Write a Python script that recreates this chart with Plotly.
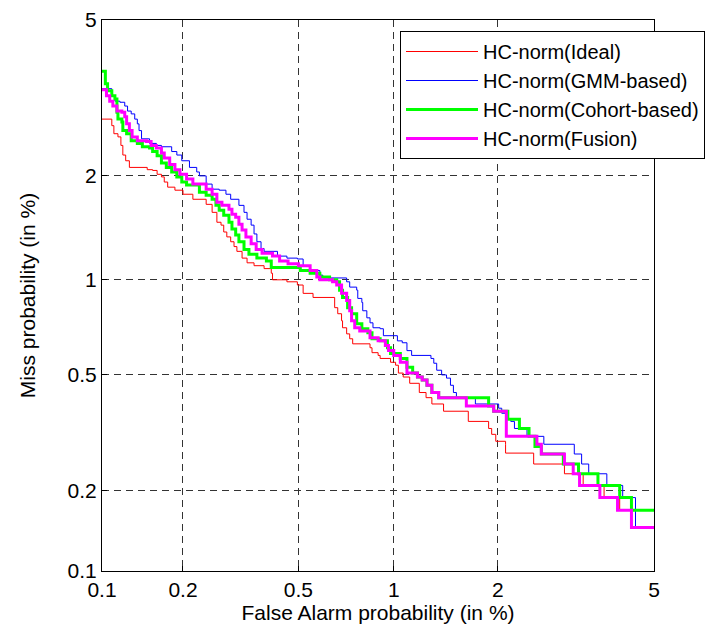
from statistics import NormalDist
import plotly.graph_objects as go

# ---- data (values in %) ----
tick_values = [0.1, 0.2, 0.5, 1, 2, 5]
tick_labels = ["0.1", "0.2", "0.5", "1", "2", "5"]

ideal_fa = [0.1, 0.109, 0.111, 0.115, 0.118, 0.120, 0.123, 0.127, 0.148, 0.155, 0.161, 0.167, 0.171, 0.176,
            0.187, 0.2, 0.217, 0.242, 0.254, 0.264, 0.273, 0.279, 0.286, 0.295, 0.303, 0.310, 0.323, 0.336,
            0.355, 0.384, 0.406, 0.410, 0.458, 0.496, 0.518, 0.558, 0.655, 0.670, 0.689, 0.694, 0.715, 0.731,
            0.747, 0.846, 0.858, 0.896, 0.909, 0.978, 1.013, 1.033, 1.068, 1.117, 1.193, 1.249, 1.299, 1.405,
            1.654, 1.886, 1.923, 1.974, 2.10, 2.10, 2.50, 3.01, 3.36, 3.79, 4.14, 4.42, 5.0]
ideal_miss = [2.84, 2.73, 2.60, 2.55, 2.42, 2.28, 2.20, 2.11, 2.08, 2.07, 2.02, 1.987, 1.923, 1.861, 1.825,
              1.778, 1.721, 1.665, 1.580, 1.480, 1.452, 1.387, 1.342, 1.299, 1.257, 1.217, 1.162, 1.125, 1.103,
              1.081, 1.047, 1.0, 0.986, 0.964, 0.909, 0.883, 0.821, 0.786, 0.747, 0.710, 0.679, 0.655, 0.631,
              0.613, 0.591, 0.579, 0.566, 0.550, 0.538, 0.507, 0.492, 0.469, 0.437, 0.420, 0.400, 0.378, 0.349,
              0.330, 0.315, 0.298, 0.291, 0.271, 0.248, 0.229, 0.208, 0.188, 0.169, 0.146, 0.146]

gmm_fa = [0.1, 0.109, 0.112, 0.117, 0.122, 0.125, 0.129, 0.133, 0.136, 0.138, 0.141, 0.151, 0.160, 0.167,
          0.182, 0.190, 0.198, 0.211, 0.224, 0.229, 0.242, 0.254, 0.269, 0.284, 0.295, 0.315, 0.328, 0.336,
          0.347, 0.355, 0.363, 0.375, 0.384, 0.426, 0.458, 0.496, 0.518, 0.546, 0.587, 0.600, 0.715, 0.731,
          0.769, 0.775, 0.798, 0.803, 0.827, 0.846, 0.864, 0.909, 0.930, 1.026, 1.061, 1.096, 1.132, 1.291,
          1.316, 1.342, 1.387, 1.433, 1.471, 1.500, 1.530, 1.732, 2.01, 2.05, 2.10, 2.17, 2.22, 2.40, 2.66,
          3.19, 3.33, 3.47, 3.85, 4.21, 4.52, 5.0]
gmm_miss = [3.40, 3.26, 3.16, 3.14, 3.07, 2.98, 2.93, 2.84, 2.76, 2.65, 2.52, 2.45, 2.42, 2.40, 2.33, 2.28,
            2.20, 2.11, 2.05, 2.0, 1.898, 1.837, 1.825, 1.778, 1.721, 1.654, 1.580, 1.510, 1.452, 1.369, 1.299,
            1.241, 1.217, 1.178, 1.162, 1.155, 1.103, 1.067, 1.033, 1.013, 0.986, 0.950, 0.930, 0.877, 0.852,
            0.803, 0.763, 0.736, 0.710, 0.705, 0.670, 0.645, 0.636, 0.600, 0.579, 0.566, 0.546, 0.518, 0.5,
            0.488, 0.462, 0.437, 0.420, 0.400, 0.387, 0.372, 0.355, 0.349, 0.330, 0.310, 0.291, 0.269, 0.248,
            0.229, 0.208, 0.188, 0.146, 0.146]

cohort_fa = [0.1, 0.103, 0.105, 0.109, 0.112, 0.114, 0.115, 0.119, 0.120, 0.124, 0.129, 0.136, 0.142, 0.151,
             0.155, 0.161, 0.167, 0.174, 0.182, 0.190, 0.198, 0.206, 0.229, 0.242, 0.254, 0.262, 0.269, 0.279,
             0.291, 0.298, 0.307, 0.315, 0.328, 0.341, 0.363, 0.391, 0.406, 0.507, 0.546, 0.587, 0.631, 0.665,
             0.679, 0.694, 0.720, 0.741, 0.769, 0.798, 0.833, 0.858, 0.909, 0.957, 0.978, 1.047, 1.096, 1.140,
             1.178, 1.217, 1.257, 1.299, 1.360, 1.886, 1.948, 2.13, 2.29, 2.43, 2.52, 2.62, 2.99, 3.27, 3.66,
             4.14, 4.42, 5.0]
cohort_miss = [3.76, 3.50, 3.36, 3.26, 3.20, 2.96, 2.84, 2.79, 2.65, 2.60, 2.49, 2.45, 2.40, 2.38, 2.33, 2.27,
               2.17, 2.11, 2.05, 1.987, 1.923, 1.886, 1.801, 1.766, 1.721, 1.654, 1.601, 1.550, 1.480, 1.414,
               1.360, 1.299, 1.233, 1.193, 1.162, 1.140, 1.089, 1.067, 1.047, 1.020, 1.0, 0.986, 0.930, 0.883,
               0.821, 0.786, 0.731, 0.705, 0.684, 0.655, 0.645, 0.613, 0.587, 0.566, 0.530, 0.507, 0.492, 0.481,
               0.462, 0.437, 0.420, 0.394, 0.378, 0.355, 0.330, 0.310, 0.286, 0.269, 0.248, 0.229, 0.208, 0.188,
               0.169, 0.169]

fusion_fa = [0.1, 0.104, 0.107, 0.110, 0.114, 0.119, 0.122, 0.124, 0.127, 0.130, 0.136, 0.147, 0.153, 0.160,
             0.167, 0.171, 0.179, 0.187, 0.195, 0.206, 0.217, 0.242, 0.254, 0.264, 0.275, 0.291, 0.298, 0.307,
             0.315, 0.323, 0.333, 0.347, 0.361, 0.378, 0.410, 0.433, 0.462, 0.5, 0.546, 0.574, 0.587, 0.645,
             0.665, 0.689, 0.715, 0.731, 0.741, 0.758, 0.786, 0.846, 0.896, 0.943, 0.964, 1.0, 1.047, 1.096,
             1.178, 1.217, 1.257, 1.299, 1.360, 1.633, 1.948, 2.11, 2.55, 2.62, 3.01, 3.17, 3.29, 3.70, 4.09,
             4.42, 5.0]
fusion_miss = [3.38, 3.26, 3.16, 3.07, 2.98, 2.96, 2.88, 2.76, 2.65, 2.55, 2.49, 2.48, 2.42, 2.38, 2.31, 2.24,
               2.15, 2.08, 2.02, 1.961, 1.898, 1.837, 1.778, 1.687, 1.654, 1.612, 1.560, 1.530, 1.461, 1.405,
               1.342, 1.282, 1.233, 1.201, 1.178, 1.140, 1.117, 1.103, 1.067, 1.020, 1.0, 0.986, 0.964, 0.909,
               0.864, 0.803, 0.747, 0.710, 0.694, 0.660, 0.645, 0.623, 0.600, 0.579, 0.550, 0.507, 0.492, 0.481,
               0.462, 0.437, 0.420, 0.394, 0.378, 0.310, 0.291, 0.269, 0.248, 0.229, 0.208, 0.188, 0.169, 0.146,
               0.146]

series = [
    ("HC-norm(Ideal)", ideal_fa, ideal_miss, "#FF0000", 1),
    ("HC-norm(GMM-based)", gmm_fa, gmm_miss, "#0000FF", 1),
    ("HC-norm(Cohort-based)", cohort_fa, cohort_miss, "#00FF00", 3),
    ("HC-norm(Fusion)", fusion_fa, fusion_miss, "#FF00FF", 3),
]

_nd = NormalDist()


def probit(pct):
    return _nd.inv_cdf(pct / 100.0)


FONT = "Liberation Sans, Arial, sans-serif"
FS = 21

fig = go.Figure()
for i, (name, fa, miss, color, width) in enumerate(series):
    fig.add_trace(go.Scatter(
        x=[probit(v) for v in fa],
        y=[probit(v) for v in miss],
        mode="lines",
        line=dict(color=color, width=width, shape="hv"),
        name=name,
        legendgroup=f"g{i}",
    ))

tick_pos = [probit(v) for v in tick_values]
rng = [probit(tick_values[0]), probit(tick_values[-1])]

axis_common = dict(
    range=rng,
    tickvals=tick_pos,
    ticktext=tick_labels,
    showgrid=True,
    gridcolor="#333333",
    gridwidth=1,
    griddash="7px,5px",
    zeroline=False,
    showline=True,
    linecolor="black",
    linewidth=1,
    mirror=True,
    ticks="inside",
    ticklen=5,
    tickcolor="black",
    tickfont=dict(family=FONT, size=FS, color="black"),
)

fig.update_xaxes(**axis_common,
                 title=dict(text="False Alarm probability (in %)",
                            font=dict(family=FONT, size=FS, color="black"), standoff=4))
fig.update_yaxes(**axis_common,
                 title=dict(text="Miss probability (in %)",
                            font=dict(family=FONT, size=FS, color="black"), standoff=26))

fig.update_layout(
    width=706,
    height=632,
    margin=dict(l=102, r=52, t=20, b=61, autoexpand=False),
    paper_bgcolor="white",
    plot_bgcolor="white",
    showlegend=True,
    legend=dict(
        x=(400 - 102) / 552, y=(571 - 31) / 551,
        xanchor="left", yanchor="top",
        bgcolor="white",
        bordercolor="black",
        borderwidth=1,
        font=dict(family=FONT, size=20, color="black"),
        tracegroupgap=0,
        itemwidth=72,
    ),
)

fig.write_html("out.html")
